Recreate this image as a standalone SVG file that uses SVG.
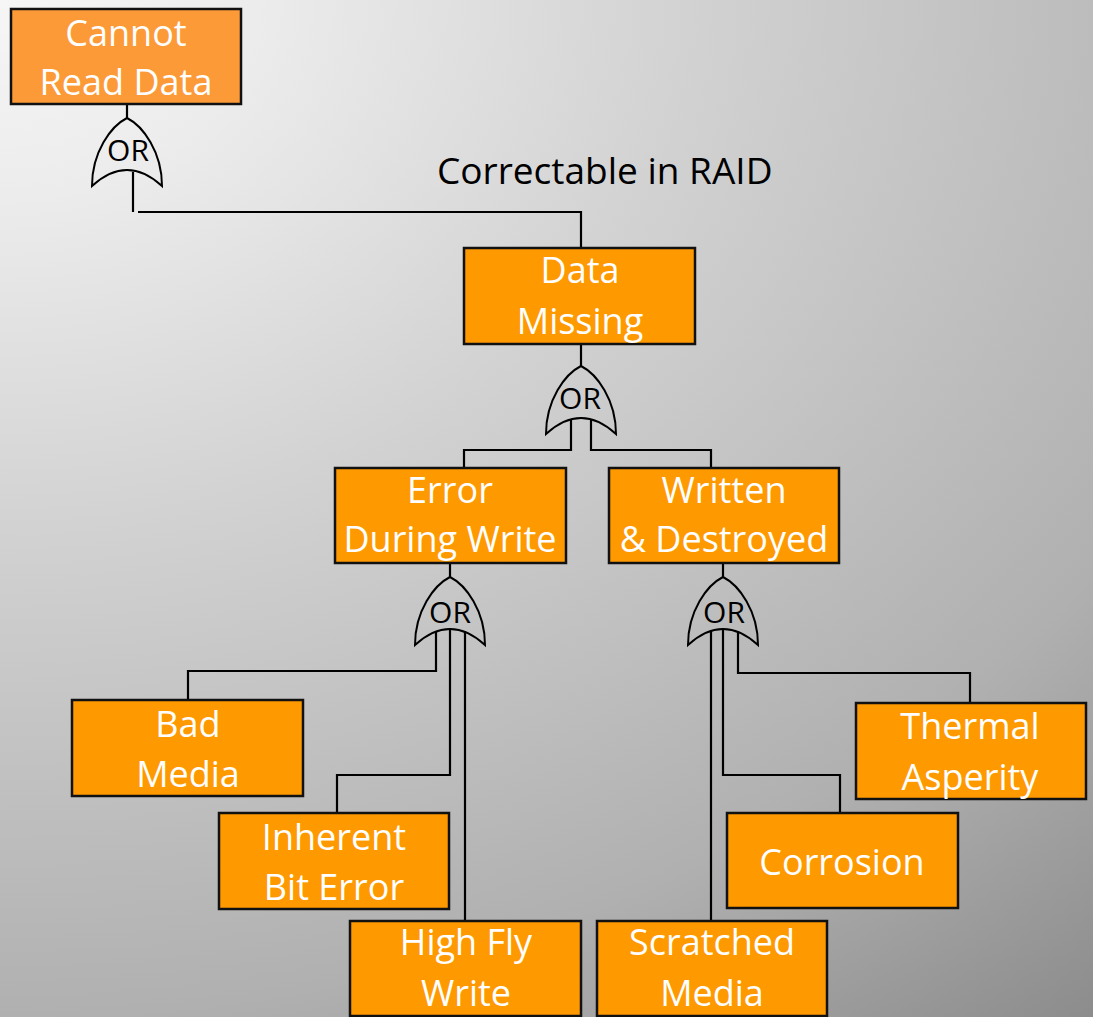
<svg xmlns="http://www.w3.org/2000/svg" width="1093" height="1017" viewBox="0 0 1093 1017">
  <defs>
    <radialGradient id="bg" gradientUnits="userSpaceOnUse" cx="0" cy="0" r="1320" gradientTransform="scale(1.3 1)">
      <stop offset="0" stop-color="#f6f6f6"/>
      <stop offset="0.15" stop-color="#ececec"/>
      <stop offset="0.4" stop-color="#d2d2d2"/>
      <stop offset="0.77" stop-color="#b0b0b0"/>
      <stop offset="1" stop-color="#8c8c8c"/>
    </radialGradient>
    <!-- OR gate outline, apex at origin, opening downward -->
    <path id="orGate" d="M-35,68 C-35,34 -16,8 0,0 C16,8 35,34 35,68 Q0,36 -35,68 Z"/>
  </defs>
  <style>
    .box { fill: #ff9900; stroke: #111111; stroke-width: 2.5; }
    .box.top { fill: #fd9a38; }
    .lbl { font-family: "Open Sans", "Liberation Sans", sans-serif; font-size: 36px; fill: #ffffff; text-anchor: middle; }
    .gate { fill: none; stroke: #000000; stroke-width: 2; }
    .gtxt { font-family: "Open Sans", "Liberation Sans", sans-serif; font-size: 30px; fill: #000000; text-anchor: middle; }
    .wire { fill: none; stroke: #000000; stroke-width: 2.2; }
    .note { font-family: "Open Sans", "Liberation Sans", sans-serif; font-size: 37px; fill: #000000; }
  </style>

  <rect x="0" y="0" width="1093" height="1017" fill="url(#bg)"/>

  <g id="connectors" class="wire">
    <path d="M127,104 V118"/>
    <path d="M133,172 V212"/>
    <path d="M138,212 H581 V248"/>
    <path d="M581,344 V366"/>
    <path d="M571,419 V450 H464 V468"/>
    <path d="M591,419 V450 H711 V468"/>
    <path d="M450,563 V577"/>
    <path d="M436,631 V671 H188 V700"/>
    <path d="M450,629 V775 H337 V813"/>
    <path d="M465,631 V921"/>
    <path d="M723,563 V577"/>
    <path d="M711,631 V920"/>
    <path d="M723,629 V775 H840 V813"/>
    <path d="M738,631 V673 H970 V703"/>
  </g>

  <text id="raid-label" class="note" x="437" y="184">Correctable in RAID</text>

  <g id="cannot-read-data">
    <rect class="box top" x="11" y="9" width="230" height="95"/>
    <text class="lbl" x="126" y="46">Cannot</text>
    <text class="lbl" x="126" y="95">Read Data</text>
  </g>
  <g id="gate-top">
    <use href="#orGate" class="gate" x="127" y="118"/>
    <text class="gtxt" x="128" y="161">OR</text>
  </g>

  <g id="data-missing">
    <rect class="box" x="464" y="248" width="231" height="96"/>
    <text class="lbl" x="580" y="283">Data</text>
    <text class="lbl" x="580" y="334">Missing</text>
  </g>
  <g id="gate-missing">
    <use href="#orGate" class="gate" x="581" y="366"/>
    <text class="gtxt" x="580" y="409">OR</text>
  </g>

  <g id="error-during-write">
    <rect class="box" x="335" y="468" width="231" height="95"/>
    <text class="lbl" x="450" y="503">Error</text>
    <text class="lbl" x="450" y="552">During Write</text>
  </g>
  <g id="gate-error">
    <use href="#orGate" class="gate" x="450" y="577"/>
    <text class="gtxt" x="450" y="623">OR</text>
  </g>

  <g id="written-destroyed">
    <rect class="box" x="609" y="468" width="230" height="95"/>
    <text class="lbl" x="724" y="503">Written</text>
    <text class="lbl" x="724" y="552">&amp; Destroyed</text>
  </g>
  <g id="gate-written">
    <use href="#orGate" class="gate" x="723" y="577"/>
    <text class="gtxt" x="724" y="623">OR</text>
  </g>

  <g id="bad-media">
    <rect class="box" x="72" y="700" width="231" height="96"/>
    <text class="lbl" x="188" y="737">Bad</text>
    <text class="lbl" x="188" y="787">Media</text>
  </g>

  <g id="inherent-bit-error">
    <rect class="box" x="219" y="813" width="230" height="96"/>
    <text class="lbl" x="334" y="850">Inherent</text>
    <text class="lbl" x="334" y="900">Bit Error</text>
  </g>

  <g id="high-fly-write">
    <rect class="box" x="350" y="921" width="231" height="95"/>
    <text class="lbl" x="466" y="955">High Fly</text>
    <text class="lbl" x="466" y="1006">Write</text>
  </g>

  <g id="scratched-media">
    <rect class="box" x="597" y="921" width="230" height="95"/>
    <text class="lbl" x="712" y="955">Scratched</text>
    <text class="lbl" x="712" y="1006">Media</text>
  </g>

  <g id="corrosion">
    <rect class="box" x="727" y="813" width="231" height="95"/>
    <text class="lbl" x="842" y="875">Corrosion</text>
  </g>

  <g id="thermal-asperity">
    <rect class="box" x="856" y="703" width="230" height="96"/>
    <text class="lbl" x="970" y="739">Thermal</text>
    <text class="lbl" x="970" y="790">Asperity</text>
  </g>
</svg>
